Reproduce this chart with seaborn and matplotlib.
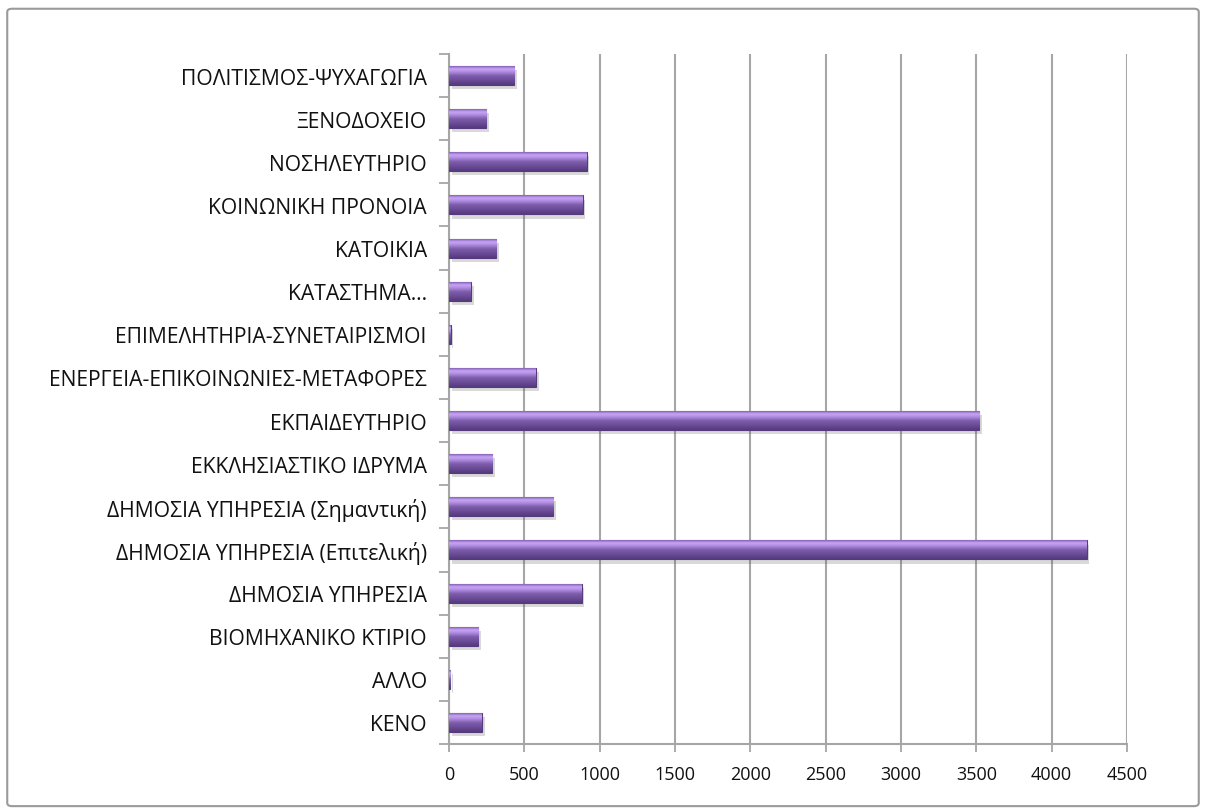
import numpy as np
import pandas as pd
import matplotlib
matplotlib.use("Agg")
import matplotlib.pyplot as plt
import matplotlib.patheffects as pe
from matplotlib.colors import LinearSegmentedColormap
from matplotlib.patches import FancyBboxPatch
import seaborn as sns

# categories listed top -> bottom as shown in the chart
categories = [
    "ΠΟΛΙΤΙΣΜΟΣ-ΨΥΧΑΓΩΓΙΑ",
    "ΞΕΝΟΔΟΧΕΙΟ",
    "ΝΟΣΗΛΕΥΤΗΡΙΟ",
    "ΚΟΙΝΩΝΙΚΗ ΠΡΟΝΟΙΑ",
    "ΚΑΤΟΙΚΙΑ",
    "ΚΑΤΑΣΤΗΜΑ…",
    "ΕΠΙΜΕΛΗΤΗΡΙΑ-ΣΥΝΕΤΑΙΡΙΣΜΟΙ",
    "ΕΝΕΡΓΕΙΑ-ΕΠΙΚΟΙΝΩΝΙΕΣ-ΜΕΤΑΦΟΡΕΣ",
    "ΕΚΠΑΙΔΕΥΤΗΡΙΟ",
    "ΕΚΚΛΗΣΙΑΣΤΙΚΟ ΙΔΡΥΜΑ",
    "ΔΗΜΟΣΙΑ ΥΠΗΡΕΣΙΑ (Σημαντική)",
    "ΔΗΜΟΣΙΑ ΥΠΗΡΕΣΙΑ (Επιτελική)",
    "ΔΗΜΟΣΙΑ ΥΠΗΡΕΣΙΑ",
    "ΒΙΟΜΗΧΑΝΙΚΟ ΚΤΙΡΙΟ",
    "ΑΛΛΟ",
    "ΚΕΝΟ",
]
values = [432, 246, 913, 887, 312, 146, 10, 576, 3520, 288, 691, 4232, 880, 193, 8, 219]
x_ticks = [0, 500, 1000, 1500, 2000, 2500, 3000, 3500, 4000, 4500]

df = pd.DataFrame({"category": categories, "value": values})

sns.set_style("white")
plt.rcParams["font.family"] = ["Open Sans", "DejaVu Sans"]

GRID = "#a6a6a6"
BAR = "#74559f"

fig = plt.figure(figsize=(12.06, 8.12), dpi=100)
ax = fig.add_axes([0.3723, 0.0825, 0.5622, 0.8498])

# outer chart frame
fig.patches.append(FancyBboxPatch((0.006, 0.006), 0.988, 0.982,
                                  boxstyle="round,pad=0,rounding_size=0.004",
                                  transform=fig.transFigure, fill=False,
                                  edgecolor="#9a9a9a", linewidth=1.5, zorder=0))

sns.barplot(data=df, x="value", y="category", orient="h", color=BAR,
            width=0.44, edgecolor="#563a7c", linewidth=0.8, ax=ax, zorder=3)

# glossy vertical gradient for each bar
cmap = LinearSegmentedColormap.from_list(
    "gloss", [(0.0, "#8360b3"), (0.14, "#c9a5f7"), (0.3, "#b08de2"),
              (0.5, "#7f5fad"), (0.8, "#664893"), (1.0, "#553a7d")])
grad = np.linspace(0, 1, 64).reshape(-1, 1)
xlim = (0, 4500)
ylim = (len(categories) - 0.5, -0.5)
for p in ax.patches:
    bb = p.get_bbox()
    if bb.width <= 0:
        continue
    im = ax.imshow(grad, cmap=cmap, aspect="auto", origin="upper",
                   extent=(bb.x0, bb.x1, bb.y1, bb.y0), zorder=3.5,
                   interpolation="bicubic")
    im.set_clip_path(p)
    p.set_path_effects([pe.SimplePatchShadow(offset=(2, -3), alpha=0.22,
                                             shadow_rgbFace="#555555"),
                        pe.Normal()])
ax.set_xlim(*xlim)
ax.set_ylim(*ylim)

ax.set_xticks(x_ticks)
ax.set_xticklabels([str(t) for t in x_ticks])
ax.grid(axis="x", color=GRID, linewidth=1.5, zorder=0)
ax.grid(axis="y", visible=False)
ax.set_axisbelow(True)

# category separators as minor ticks on the y axis
ax.set_yticks(np.arange(len(categories) + 1) - 0.5, minor=True)
ax.tick_params(axis="y", which="major", length=0, pad=16, labelsize=15.2,
               labelcolor="#111111")
ax.tick_params(axis="y", which="minor", length=7, width=1.3, color=GRID,
               direction="out", left=True)
ax.tick_params(axis="x", length=6, width=1.3, color=GRID, direction="out",
               pad=9, labelsize=13, labelcolor="#111111", bottom=True)

for side in ("top", "right"):
    ax.spines[side].set_visible(False)
for side in ("left", "bottom"):
    ax.spines[side].set_color(GRID)
    ax.spines[side].set_linewidth(1.5)

ax.set_xlabel("")
ax.set_ylabel("")

fig.savefig("out.png", dpi=100)
